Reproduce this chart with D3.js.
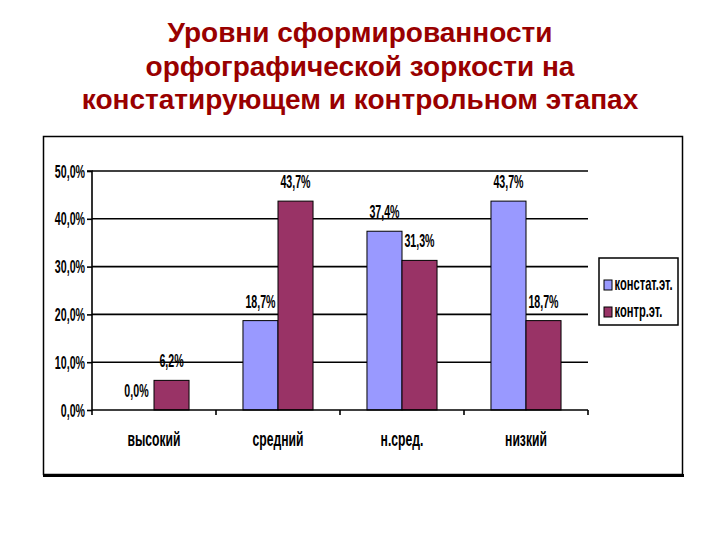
<!DOCTYPE html>
<html><head><meta charset="utf-8">
<script src="https://cdn.jsdelivr.net/npm/d3@7/dist/d3.min.js"></script>
<style>
html,body{margin:0;padding:0;background:#fff;}
svg{display:block;}
</style></head>
<body>
<svg id="chart" width="720" height="540"></svg>
<script>
const titleLines = ["Уровни сформированности", "орфографической зоркости на", "констатирующем и контрольном этапах"];
const categories = ["высокий", "средний", "н.сред.", "низкий"];
const seriesNames = ["констат.эт.", "контр.эт."];
const constatValues = [0.0, 18.7, 37.4, 43.7];
const kontrValues = [6.2, 43.7, 31.3, 18.7];
const yTicks = [0, 10, 20, 30, 40, 50];
const colors = ["#9999FF", "#993366"];

const svg = d3.select("#chart");
const font = "'Liberation Sans',Arial,sans-serif";
const SX = 0.56;   // horizontal squeeze for the narrow chart font
const fmt = v => v.toFixed(1).replace(".", ",") + "%";

// Title
svg.append("g").selectAll("text").data(titleLines).join("text")
  .attr("x", 360).attr("y", (d, i) => 42 + i * 33.5)
  .attr("text-anchor", "middle")
  .attr("font-family", font)
  .attr("font-weight", "bold").attr("font-size", 28)
  .attr("fill", "#990000")
  .text(d => d);

// Outer chart frame
svg.append("rect").attr("x", 43.5).attr("y", 136.5).attr("width", 639).attr("height", 338)
  .attr("fill", "#fff").attr("stroke", "#000").attr("stroke-width", 1.5);
svg.append("line").attr("x1", 43).attr("x2", 684).attr("y1", 475.5).attr("y2", 475.5)
  .attr("stroke", "#000").attr("stroke-width", 3);

const plot = {left: 92, right: 588, top: 171, bottom: 410};
const x0 = d3.scaleBand().domain(categories).range([plot.left, plot.right]).paddingInner(0).paddingOuter(0);
const x1 = d3.scaleBand().domain(seriesNames).range([0, x0.bandwidth()]).paddingInner(0).paddingOuter(0.77);
const y = d3.scaleLinear().domain([0, 50]).range([plot.bottom, plot.top]);

// Gridlines
svg.append("g").selectAll("line").data(yTicks.filter(t => t > 0)).join("line")
  .attr("x1", plot.left).attr("x2", plot.right)
  .attr("y1", d => y(d)).attr("y2", d => y(d))
  .attr("stroke", "#000").attr("stroke-width", 1.6);

// Y axis
const yAxis = svg.append("g").attr("transform", `translate(${plot.left},0)`)
  .call(d3.axisLeft(y).tickValues(yTicks).tickSize(5).tickPadding(3).tickFormat(fmt));
yAxis.select(".domain").attr("stroke", "#000").attr("stroke-width", 1.6).attr("d", `M-5,${plot.top}H0V${plot.bottom}`);
yAxis.selectAll(".tick line").attr("stroke", "#000").attr("stroke-width", 1.6);
yAxis.selectAll(".tick text").attr("font-family", font).attr("font-weight", "bold")
  .attr("font-size", 19).attr("fill", "#000")
  .attr("x", -7 / SX).attr("transform", `scale(${SX},1)`);

// Bars
const data = categories.map((c, i) => ({cat: c, vals: [constatValues[i], kontrValues[i]]}));
const groups = svg.append("g").selectAll("g").data(data).join("g")
  .attr("transform", d => `translate(${x0(d.cat)},0)`);
groups.selectAll("rect").data(d => d.vals.map((v, j) => ({s: seriesNames[j], v, j}))).join("rect")
  .filter(d => d.v > 0)
  .attr("x", d => x1(d.s)).attr("width", x1.bandwidth())
  .attr("y", d => y(d.v)).attr("height", d => y(0) - y(d.v))
  .attr("fill", d => colors[d.j]).attr("stroke", "#000").attr("stroke-width", 1);
groups.selectAll("text").data(d => d.vals.map((v, j) => ({s: seriesNames[j], v, j}))).join("text")
  .attr("x", d => (x1(d.s) + x1.bandwidth() / 2) / SX)
  .attr("y", d => y(d.v) - 13)
  .attr("transform", `scale(${SX},1)`)
  .attr("text-anchor", "middle")
  .attr("font-family", font).attr("font-weight", "bold").attr("font-size", 19)
  .attr("fill", "#000")
  .text(d => fmt(d.v));

// X axis
const xAxis = svg.append("g").attr("transform", `translate(0,${plot.bottom})`)
  .call(d3.axisBottom(x0).tickSize(0).tickPadding(21));
xAxis.select(".domain").attr("stroke", "#000").attr("stroke-width", 1.6).attr("d", `M${plot.left},0H${plot.right}`);
xAxis.selectAll(".tick text").attr("font-family", font).attr("font-weight", "bold")
  .attr("font-size", 21).attr("fill", "#000")
  .attr("transform", `scale(${SX + 0.02},1)`);
svg.append("g").selectAll("line").data(d3.range(categories.length + 1)).join("line")
  .attr("x1", i => plot.left + i * x0.bandwidth()).attr("x2", i => plot.left + i * x0.bandwidth())
  .attr("y1", plot.bottom).attr("y2", plot.bottom + 5)
  .attr("stroke", "#000").attr("stroke-width", 1.6);

// Legend
const lg = svg.append("g").attr("transform", "translate(599,258)");
lg.append("rect").attr("width", 79).attr("height", 67).attr("fill", "#fff")
  .attr("stroke", "#000").attr("stroke-width", 1.5);
const items = lg.selectAll("g").data(seriesNames).join("g")
  .attr("transform", (d, i) => `translate(5,${32 + i * 27})`);
items.append("rect").attr("x", 0).attr("y", -10).attr("width", 8).attr("height", 10)
  .attr("fill", (d, i) => colors[i]).attr("stroke", "#000").attr("stroke-width", 1);
items.append("text").attr("x", 10.5 / (SX + 0.06)).attr("y", 0)
  .attr("transform", `scale(${SX + 0.06},1)`)
  .attr("font-family", font).attr("font-weight", "bold").attr("font-size", 18)
  .attr("fill", "#000").text(d => d);
</script>
</body></html>
